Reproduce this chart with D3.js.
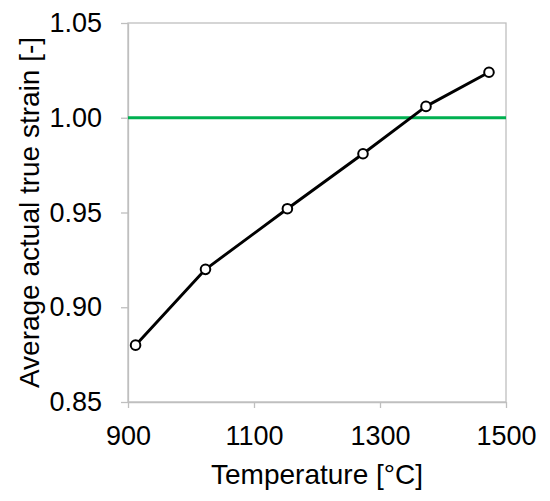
<!DOCTYPE html>
<html>
<head>
<meta charset="utf-8">
<script src="https://cdn.jsdelivr.net/npm/d3@7"></script>
<style>
  body { margin: 0; background: #fff; }
  text { font-family: "Liberation Sans", Arial, sans-serif; fill: #000; }
</style>
</head>
<body>
<svg id="chart"></svg>
<script>
const width = 550;
const height = 501;
const margin = { top: 23, right: 44, bottom: 99, left: 128 };

// DATA
const temperatures = [912, 1023, 1153, 1273, 1373, 1473];
const strains = [0.880, 0.920, 0.952, 0.981, 1.006, 1.024];
const referenceStrain = 1.00;
const xTicks = [900, 1100, 1300, 1500];
const yTicks = [0.85, 0.90, 0.95, 1.00, 1.05];

const points = temperatures.map((t, i) => ({ t: t, s: strains[i] }));

const svg = d3.select("#chart")
  .attr("width", width)
  .attr("height", height);

// CREATE SCALES
const xScale = d3.scaleLinear()
  .domain([900, 1500])
  .range([margin.left, width - margin.right]);

const yScale = d3.scaleLinear()
  .domain([0.85, 1.05])
  .range([height - margin.bottom, margin.top]);

const grey = "#bfbfbf";

// PLOT BOX
svg.append("rect")
  .attr("x", xScale(900))
  .attr("y", yScale(1.05))
  .attr("width", xScale(1500) - xScale(900))
  .attr("height", yScale(0.85) - yScale(1.05))
  .attr("fill", "none")
  .attr("stroke", grey)
  .attr("stroke-width", 1.3);

// AXES
const xAxis = d3.axisBottom(xScale)
  .tickValues(xTicks)
  .tickFormat(d3.format("d"))
  .tickSize(6)
  .tickSizeOuter(0)
  .tickPadding(18);

const yAxis = d3.axisLeft(yScale)
  .tickValues(yTicks)
  .tickFormat(d3.format(".2f"))
  .tickSize(7)
  .tickSizeOuter(0)
  .tickPadding(19);

const gx = svg.append("g")
  .attr("transform", `translate(0, ${yScale(0.85)})`)
  .call(xAxis);

const gy = svg.append("g")
  .attr("transform", `translate(${xScale(900)}, 0)`)
  .call(yAxis);

[gx, gy].forEach(g => {
  g.select(".domain").attr("stroke", grey).attr("stroke-width", 1.3);
  g.selectAll(".tick line").attr("stroke", grey).attr("stroke-width", 1.3);
  g.selectAll(".tick text")
    .attr("fill", "#000")
    .style("font-family", "'Liberation Sans', Arial, sans-serif")
    .style("font-size", "27px");
});

// REFERENCE LINE
svg.append("line")
  .attr("x1", xScale(900))
  .attr("x2", xScale(1500))
  .attr("y1", yScale(referenceStrain))
  .attr("y2", yScale(referenceStrain))
  .attr("stroke", "#00b050")
  .attr("stroke-width", 3);

// DATA LINE
const line = d3.line()
  .x(d => xScale(d.t))
  .y(d => yScale(d.s));

svg.append("path")
  .datum(points)
  .attr("d", line)
  .attr("fill", "none")
  .attr("stroke", "#000")
  .attr("stroke-width", 2.9)
  .attr("stroke-linejoin", "round");

svg.selectAll("circle.marker")
  .data(points)
  .enter()
  .append("circle")
    .attr("class", "marker")
    .attr("cx", d => xScale(d.t))
    .attr("cy", d => yScale(d.s))
    .attr("r", 4.8)
    .attr("fill", "#fff")
    .attr("stroke", "#000")
    .attr("stroke-width", 2);

// ADD LABELS
svg.append("text")
  .attr("x", (xScale(900) + xScale(1500)) / 2)
  .attr("y", 484)
  .style("text-anchor", "middle")
  .style("font-size", "28px")
  .text("Temperature [°C]");

svg.append("text")
  .attr("transform", "rotate(-90)")
  .attr("x", -(yScale(0.85) + yScale(1.05)) / 2)
  .attr("y", 39)
  .style("text-anchor", "middle")
  .style("font-size", "28px")
  .text("Average actual true strain [-]");
</script>
</body>
</html>
